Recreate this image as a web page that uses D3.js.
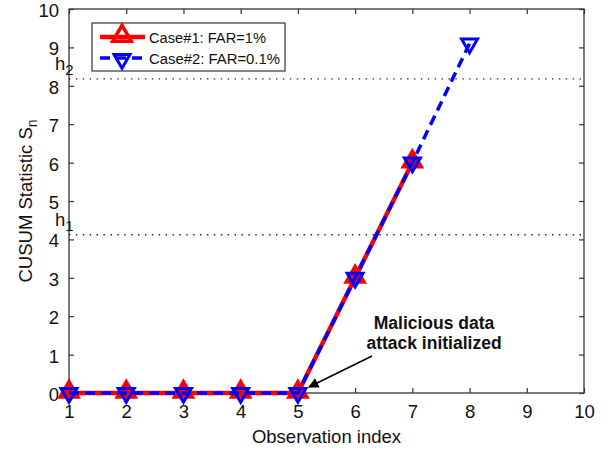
<!DOCTYPE html>
<html>
<head>
<meta charset="utf-8">
<script src="https://d3js.org/d3.v7.min.js"></script>
<style>
  body { margin: 0; background: #fff; }
  svg { font-family: "Liberation Sans", Arial, sans-serif; }
</style>
</head>
<body>
<svg width="615" height="451"></svg>
<script>
// data
var obs1 = [1, 2, 3, 4, 5, 6, 7];
var case1 = [0, 0, 0, 0, 0, 3, 6];
var obs2 = [1, 2, 3, 4, 5, 6, 7, 8];
var case2 = [0, 0, 0, 0, 0, 3, 6, 9.1];
var thresholds = [4.12, 8.18];
var thresholdLabels = ['1', '2'];
var xTicks = [1, 2, 3, 4, 5, 6, 7, 8, 9, 10];
var yTicks = [0, 1, 2, 3, 4, 5, 6, 7, 8, 9, 10];

var svg = d3.select('svg');
var L = 69, R = 584, T = 9, B = 393;

var x = d3.scaleLinear().domain([1, 10]).range([L, R]);
var y = d3.scaleLinear().domain([0, 10]).range([B, T]);

var axisColor = '#333';

// frame
svg.append('rect')
    .attr('x', L).attr('y', T)
    .attr('width', R - L).attr('height', B - T)
    .attr('fill', 'none').attr('stroke', axisColor).attr('stroke-width', 1.3);

// axes (ticks inward)
var gx = svg.append('g').attr('transform', 'translate(0,' + B + ')')
    .call(d3.axisBottom(x).tickValues(xTicks).tickSizeInner(-5).tickSizeOuter(0).tickPadding(12));
var gxTop = svg.append('g').attr('transform', 'translate(0,' + T + ')')
    .call(d3.axisTop(x).tickValues(xTicks).tickSizeInner(-5).tickSizeOuter(0).tickFormat(''));
var gy = svg.append('g').attr('transform', 'translate(' + L + ',0)')
    .call(d3.axisLeft(y).tickValues(yTicks).tickSizeInner(-5).tickSizeOuter(0).tickPadding(10));
var gyR = svg.append('g').attr('transform', 'translate(' + R + ',0)')
    .call(d3.axisRight(y).tickValues(yTicks).tickSizeInner(-5).tickSizeOuter(0).tickFormat(''));

[gx, gxTop, gy, gyR].forEach(function (g) {
    g.select('.domain').remove();
    g.selectAll('line').attr('stroke', axisColor).attr('stroke-width', 1.2);
    g.selectAll('text').attr('fill', '#111').style('font-size', '18.5px')
        .style('font-family', '"Liberation Sans", Arial, sans-serif');
});
gy.selectAll('text').attr('dy', '0.4em');

// threshold lines
svg.selectAll('.thr').data(thresholds).enter().append('line')
    .attr('class', 'thr')
    .attr('x1', L).attr('x2', R)
    .attr('y1', function (d) { return y(d); })
    .attr('y2', function (d) { return y(d); })
    .attr('stroke', '#222').attr('stroke-width', 1.4)
    .attr('stroke-dasharray', '1.4,5.5');

var hl = svg.selectAll('.hlab').data(thresholds).enter().append('text')
    .attr('class', 'hlab')
    .attr('x', 55)
    .attr('y', function (d) { return y(d) - 9; })
    .style('font-size', '18.5px').attr('fill', '#111');
hl.append('tspan').text('h');
hl.append('tspan').attr('dy', 5).style('font-size', '15px')
    .text(function (d, i) { return thresholdLabels[i]; });

var line1 = d3.line().x(function (d, i) { return x(obs1[i]); }).y(function (d) { return y(d); });
var line2 = d3.line().x(function (d, i) { return x(obs2[i]); }).y(function (d) { return y(d); });

var up = d3.symbol().type(d3.symbolTriangle).size(150);
var down = d3.symbol().type(d3.symbolTriangle).size(110);

// case 1: red solid, up triangles
svg.append('path').datum(case1)
    .attr('d', line1).attr('fill', 'none')
    .attr('stroke', '#ff0000').attr('stroke-width', 4.5);
svg.selectAll('.m1').data(case1).enter().append('path')
    .attr('class', 'm1')
    .attr('transform', function (d, i) { return 'translate(' + x(obs1[i]) + ',' + (y(d) - 1) + ')'; })
    .attr('d', up)
    .attr('fill', '#ff0000').attr('stroke', '#ff0000').attr('stroke-width', 3);

// case 2: blue dashed, down triangles
svg.append('path').datum(case2)
    .attr('d', line2).attr('fill', 'none')
    .attr('stroke', '#0000ff').attr('stroke-width', 3.5)
    .attr('stroke-dasharray', '10,6');
svg.selectAll('.m2').data(case2).enter().append('path')
    .attr('class', 'm2')
    .attr('transform', function (d, i) { return 'translate(' + x(obs2[i]) + ',' + y(d) + ') rotate(180)'; })
    .attr('d', down)
    .attr('fill', 'none').attr('stroke', '#0000ff').attr('stroke-width', 3);

// legend
var lg = svg.append('g');
lg.append('rect').attr('x', 92).attr('y', 23).attr('width', 193).attr('height', 48)
    .attr('fill', '#fff').attr('stroke', axisColor).attr('stroke-width', 1.2);
lg.append('line').attr('x1', 100).attr('x2', 145).attr('y1', 37).attr('y2', 37)
    .attr('stroke', '#ff0000').attr('stroke-width', 4.5);
lg.append('path').attr('transform', 'translate(122,36)').attr('d', up)
    .attr('fill', 'none').attr('stroke', '#ff0000').attr('stroke-width', 3.5);
lg.append('line').attr('x1', 100).attr('x2', 145).attr('y1', 58).attr('y2', 58)
    .attr('stroke', '#0000ff').attr('stroke-width', 3.5).attr('stroke-dasharray', '10,6');
lg.append('path').attr('transform', 'translate(122,59) rotate(180)').attr('d', down)
    .attr('fill', 'none').attr('stroke', '#0000ff').attr('stroke-width', 3);
lg.append('text').attr('x', 149).attr('y', 43).style('font-size', '15.5px').attr('fill', '#111')
    .attr('textLength', 117).attr('lengthAdjust', 'spacingAndGlyphs')
    .text('Case#1: FAR=1%');
lg.append('text').attr('x', 149).attr('y', 64).style('font-size', '15.5px').attr('fill', '#111')
    .attr('textLength', 131).attr('lengthAdjust', 'spacingAndGlyphs')
    .text('Case#2: FAR=0.1%');

// annotation
svg.append('defs').append('marker')
    .attr('id', 'ah').attr('viewBox', '0 0 10 10').attr('refX', 9).attr('refY', 5)
    .attr('markerWidth', 7).attr('markerHeight', 7).attr('orient', 'auto')
    .append('path').attr('d', 'M0,0L10,5L0,10z').attr('fill', '#000');
svg.append('line')
    .attr('x1', 372).attr('y1', 356).attr('x2', 309).attr('y2', 387)
    .attr('stroke', '#000').attr('stroke-width', 1.5).attr('marker-end', 'url(#ah)');
svg.append('text').attr('x', 434).attr('y', 329).attr('text-anchor', 'middle')
    .style('font-size', '17.5px').style('font-weight', 'bold').attr('fill', '#111')
    .text('Malicious data');
svg.append('text').attr('x', 434).attr('y', 349).attr('text-anchor', 'middle')
    .style('font-size', '17.5px').style('font-weight', 'bold').attr('fill', '#111')
    .text('attack initialized');

// axis titles
svg.append('text').attr('x', (L + R) / 2).attr('y', 443).attr('text-anchor', 'middle')
    .style('font-size', '18.5px').attr('fill', '#111').text('Observation index');
var yl = svg.append('text').attr('transform', 'translate(32,' + ((T + B) / 2) + ') rotate(-90)')
    .attr('text-anchor', 'middle').style('font-size', '18.5px').attr('fill', '#111');
yl.append('tspan').text('CUSUM Statistic S');
yl.append('tspan').attr('dy', 5).style('font-size', '14px').text('n');
</script>
</body>
</html>
